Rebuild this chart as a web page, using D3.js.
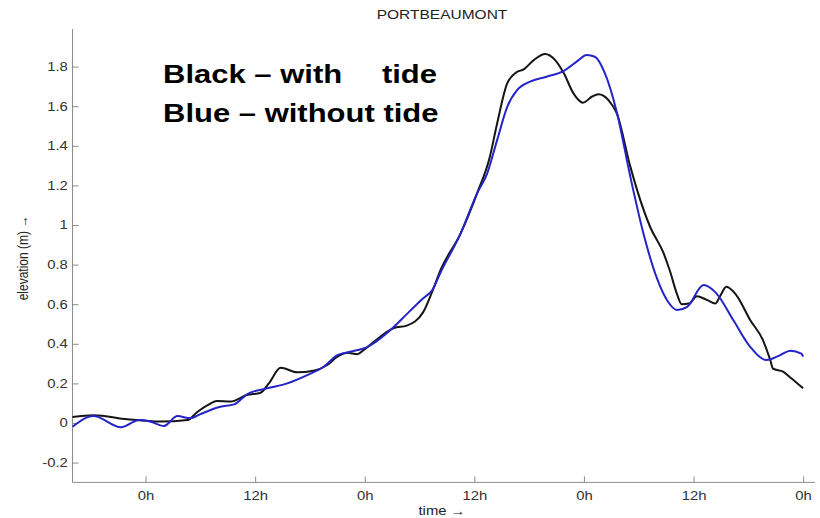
<!DOCTYPE html>
<html>
<head>
<meta charset="utf-8">
<script src="https://cdn.jsdelivr.net/npm/d3@7"></script>
<style>
  html, body { margin: 0; padding: 0; background: #fff; }
  svg { display: block; font-family: "Liberation Sans", Arial, sans-serif; }
  .axis path, .axis line { stroke: #8c8c8c; stroke-width: 1; }
  .axis text { fill: #333; font-size: 12px; }
</style>
</head>
<body>
<svg id="chart" width="820" height="518"></svg>
<script>
// Water elevation at Port Beaumont, hours relative to the first midnight
const timeWithTide = [-8.0, -5.7, -2.0, 1.6, 4.6, 5.7, 6.8, 7.8, 9.3, 11.1, 12.6, 13.5, 14.8, 16.6, 18.4, 19.9, 21.0, 22.1, 23.2, 23.9, 25.0, 27.2, 28.6, 30.4, 31.4, 32.3, 34.5, 36.3, 37.7, 38.5, 39.6, 40.7, 41.4, 42.5, 43.75, 44.85, 45.8, 46.85, 47.9, 48.9, 49.6, 50.7, 51.6, 53.05, 53.8, 55.25, 56.7, 57.4, 58.2, 58.7, 59.6, 60.35, 61.45, 62.4, 62.9, 63.6, 64.7, 66.2, 67.6, 68.4, 68.7, 69.8, 70.7, 72.0];
const elevWithTide = [0.030, 0.039, 0.019, 0.007, 0.015, 0.057, 0.090, 0.111, 0.108, 0.141, 0.153, 0.200, 0.279, 0.256, 0.264, 0.293, 0.335, 0.355, 0.347, 0.369, 0.410, 0.480, 0.492, 0.560, 0.665, 0.773, 0.958, 1.160, 1.345, 1.514, 1.715, 1.774, 1.786, 1.833, 1.864, 1.833, 1.766, 1.665, 1.618, 1.649, 1.660, 1.630, 1.564, 1.300, 1.180, 0.990, 0.860, 0.770, 0.650, 0.600, 0.605, 0.640, 0.622, 0.604, 0.640, 0.688, 0.645, 0.520, 0.419, 0.318, 0.275, 0.259, 0.226, 0.175];

const timeNoTide = [-8.0, -5.7, -2.7, -0.7, 0.5, 2.0, 3.5, 4.9, 6.0, 8.2, 9.7, 11.1, 13.3, 15.5, 17.7, 19.5, 21.0, 22.4, 24.3, 25.2, 27.2, 28.6, 30.4, 31.4, 32.3, 34.5, 36.3, 37.4, 38.5, 39.6, 40.7, 42.1, 43.9, 45.8, 47.2, 48.3, 49.2, 50.3, 51.6, 53.05, 54.5, 56.0, 57.1, 58.2, 59.3, 61.1, 62.5, 64.35, 66.2, 68.0, 69.5, 70.6, 71.8, 72.0];
const elevNoTide = [-0.019, 0.035, -0.022, 0.015, 0.008, -0.015, 0.035, 0.024, 0.045, 0.082, 0.094, 0.145, 0.175, 0.200, 0.242, 0.284, 0.343, 0.360, 0.385, 0.410, 0.486, 0.550, 0.630, 0.672, 0.760, 0.958, 1.160, 1.260, 1.430, 1.597, 1.682, 1.724, 1.749, 1.779, 1.825, 1.859, 1.850, 1.766, 1.570, 1.250, 0.960, 0.730, 0.620, 0.571, 0.587, 0.697, 0.655, 0.520, 0.385, 0.318, 0.343, 0.365, 0.350, 0.335];

const xTickValues = [0, 12, 24, 36, 48, 60, 72];
const xTickLabels = ["0h", "12h", "0h", "12h", "0h", "12h", "0h"];
const yTickValues = [-0.2, 0, 0.2, 0.4, 0.6, 0.8, 1, 1.2, 1.4, 1.6, 1.8];
const yTickLabels = ["-0.2", "0", "0.2", "0.4", "0.6", "0.8", "1", "1.2", "1.4", "1.6", "1.8"];

const titleText = "PORTBEAUMONT";
const legendRows = [["Black \u2013 with", "tide"], ["Blue \u2013 without tide", ""]];

const svg = d3.select("#chart");
const stretch = 1.24; // text is drawn slightly wide

const x = d3.scaleLinear().domain([-8, 73.3]).range([72.5, 815]);
const y = d3.scaleLinear().domain([-0.3, 1.99]).range([482.4, 29]);

// axes with inward ticks
const yAxis = d3.axisLeft(y)
  .tickValues(yTickValues)
  .tickFormat((d, i) => yTickLabels[i])
  .tickSizeInner(-6).tickSizeOuter(0).tickPadding(3.8);
const xAxis = d3.axisBottom(x)
  .tickValues(xTickValues)
  .tickFormat((d, i) => xTickLabels[i])
  .tickSizeInner(-6).tickSizeOuter(0).tickPadding(9);

const gy = svg.append("g").attr("class", "axis")
  .attr("transform", `translate(${x.range()[0]},0)`).call(yAxis);
const gx = svg.append("g").attr("class", "axis")
  .attr("transform", `translate(0,${y.range()[0]})`).call(xAxis);
gy.selectAll("text").attr("transform", `scale(${stretch},1)`);
gx.selectAll("text").attr("transform", `scale(${stretch},1)`);
gy.select(".domain").attr("d", `M0,${y.range()[0]}V${y.range()[1]}`);
gx.select(".domain").attr("d", `M${x.range()[0]},0H${x.range()[1]}`);

// series
const line = d3.line()
  .x(d => x(d[0]))
  .y(d => y(d[1]))
  .curve(d3.curveMonotoneX);

const withTide = d3.zip(timeWithTide, elevWithTide);
const noTide = d3.zip(timeNoTide, elevNoTide);

svg.append("path").datum(withTide)
  .attr("d", line).attr("fill", "none")
  .attr("stroke", "#151515").attr("stroke-width", 2)
  .attr("stroke-linejoin", "round");
svg.append("path").datum(noTide)
  .attr("d", line).attr("fill", "none")
  .attr("stroke", "#2424c8").attr("stroke-width", 2)
  .attr("stroke-linejoin", "round");

// title and axis labels
svg.append("g").attr("transform", `translate(442,19) scale(${stretch},1)`)
  .append("text").attr("text-anchor", "middle")
  .attr("font-size", 12.5).attr("fill", "#222").text(titleText);

svg.append("g").attr("transform", `translate(442,515) scale(${stretch},1)`)
  .append("text").attr("text-anchor", "middle")
  .attr("font-size", 12).attr("fill", "#222").text("time \u2192");

svg.append("g").attr("transform", `translate(28,258) scale(${stretch},1) rotate(-90)`)
  .append("text").attr("text-anchor", "middle")
  .attr("font-size", 12).attr("fill", "#222").text("elevation (m) \u2192");

// legend text: left part from the left edge, trailing word right-aligned
legendRows.forEach((row, i) => {
  const yBase = 83 + i * 39;
  svg.append("g").attr("transform", `translate(163,${yBase}) scale(1.24,1)`)
    .append("text")
    .attr("font-size", 25).attr("font-weight", "bold").attr("fill", "#000")
    .text(row[0]);
  if (row[1]) {
    svg.append("g").attr("transform", `translate(437,${yBase}) scale(1.24,1)`)
      .append("text").attr("text-anchor", "end")
      .attr("font-size", 25).attr("font-weight", "bold").attr("fill", "#000")
      .text(row[1]);
  }
});
</script>
</body>
</html>
